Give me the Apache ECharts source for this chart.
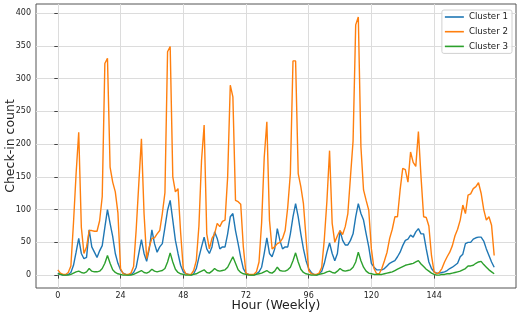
<!DOCTYPE html>
<html>
<head>
<meta charset="utf-8">
<script src="https://cdn.jsdelivr.net/npm/echarts@6/dist/echarts.min.js"></script>
<style>
  html, body { margin: 0; padding: 0; background: #fff; }
  #main { width: 519px; height: 317px; }
</style>
</head>
<body>
<div id="main"></div>
<script>
// check-in counts per hour of the week (0..167)
var seriesNames = ['Cluster 1', 'Cluster 2', 'Cluster 3'];
var xTicks = [0, 24, 48, 72, 96, 120, 144];
var yTicks = [0, 50, 100, 150, 200, 250, 300, 350, 400];

var cluster1 = [
  3, 1, 0, 0, 1, 4, 15, 35, 56, 33, 25, 27, 69, 43, 35, 27, 37, 45, 73, 100, 79, 59, 33, 18,
  8, 3, 1, 0, 1, 4, 12, 33, 54, 33, 21, 40, 69, 48, 35, 43, 48, 73, 99, 114, 84, 53, 33, 15,
  5, 2, 1, 0, 2, 10, 27, 43, 58, 40, 33, 43, 66, 56, 40, 43, 43, 63, 89, 94, 68, 48, 27, 10,
  3, 1, 0, 0, 2, 5, 12, 33, 57, 33, 28, 40, 71, 53, 40, 43, 43, 63, 89, 109, 89, 63, 40, 22,
  10, 4, 1, 0, 2, 6, 18, 35, 49, 33, 22, 33, 68, 53, 46, 46, 53, 63, 89, 109, 94, 84, 63, 43,
  18, 12, 8, 8, 8, 10, 14, 18, 20, 22, 28, 35, 45, 53, 55, 61, 58, 66, 71, 63, 63, 40, 20, 10,
  5, 3, 3, 4, 5, 7, 10, 12, 15, 18, 28, 32, 48, 50, 50, 55, 57, 58, 58, 52, 40, 30, 20, 12
];

var cluster2 = [
  8, 3, 1, 1, 4, 14, 80, 155, 218, 73, 33, 43, 68, 68, 67, 67, 83, 120, 323, 331, 165, 142, 127, 95,
  10, 2, 1, 1, 3, 13, 70, 140, 208, 94, 25, 43, 56, 57, 63, 68, 94, 126, 341, 349, 150, 127, 132, 65,
  10, 2, 1, 1, 7, 22, 75, 175, 229, 63, 40, 56, 63, 79, 74, 82, 84, 150, 290, 272, 114, 112, 108, 43,
  3, 1, 1, 1, 5, 20, 80, 180, 234, 84, 40, 43, 48, 50, 56, 68, 104, 155, 327, 327, 155, 135, 109, 56,
  7, 2, 1, 1, 3, 12, 55, 114, 190, 79, 50, 60, 68, 62, 74, 94, 150, 205, 382, 394, 196, 130, 114, 99,
  40, 10, 2, 2, 10, 22, 35, 56, 70, 89, 89, 130, 163, 161, 142, 188, 172, 166, 219, 150, 89, 88, 75, 30,
  5, 2, 4, 10, 20, 28, 35, 45, 60, 70, 84, 107, 94, 122, 124, 132, 135, 141, 125, 100, 84, 89, 76, 30
];

var cluster3 = [
  2, 1, 0, 0, 0, 1, 3, 5, 6, 4, 3, 5, 10, 6, 5, 5, 6, 10, 18, 30, 18, 8, 4, 2,
  1, 0, 0, 0, 0, 1, 3, 5, 7, 4, 3, 5, 9, 6, 5, 6, 7, 10, 20, 34, 20, 9, 4, 2,
  1, 0, 0, 0, 1, 2, 4, 6, 8, 4, 3, 6, 10, 7, 6, 7, 8, 12, 20, 28, 18, 8, 4, 2,
  1, 0, 0, 0, 1, 2, 3, 5, 7, 4, 3, 6, 12, 7, 6, 6, 8, 12, 22, 34, 20, 9, 4, 2,
  1, 0, 0, 0, 1, 2, 3, 5, 6, 4, 3, 6, 10, 7, 6, 7, 8, 12, 20, 35, 22, 12, 6, 3,
  2, 1, 1, 1, 1, 2, 3, 4, 5, 7, 9, 11, 13, 15, 16, 17, 18, 20, 22, 17, 13, 9, 6, 3,
  1, 0, 0, 1, 1, 2, 2, 3, 4, 5, 6, 8, 10, 14, 14, 15, 18, 20, 21, 16, 12, 8, 5, 2
];

var colors = ['#1f77b4', '#ff7f0e', '#2ca02c'];

function toPoints(arr) {
  return arr.map(function (v, i) { return [i, v]; });
}

var chart = echarts.init(document.getElementById('main'), null, { renderer: 'canvas' });

var lineSeries = [cluster1, cluster2, cluster3].map(function (arr, i) {
  return {
    name: seriesNames[i],
    type: 'line',
    data: toPoints(arr),
    showSymbol: false,
    symbol: 'none',
    lineStyle: { width: 1.4, color: colors[i] },
    itemStyle: { color: colors[i] }
  };
});

var option = {
  animation: false,
  color: colors,
  textStyle: { fontFamily: 'DejaVu Sans' },
  grid: {
    left: 36, right: 3, top: 4, bottom: 29,
    show: true, borderColor: '#555', borderWidth: 1,
    containLabel: false,
    outerBoundsMode: 'none'
  },
  legend: {
    data: seriesNames,
    orient: 'vertical',
    right: 7, top: 10,
    icon: 'rect',
    itemWidth: 19, itemHeight: 1.6,
    itemGap: 4.7,
    padding: [2, 4, 2, 3],
    backgroundColor: 'rgba(255,255,255,0.8)',
    borderColor: '#d0d0d0', borderWidth: 1, borderRadius: 2,
    textStyle: { fontSize: 8.7, lineHeight: 10, color: '#222', fontFamily: 'DejaVu Sans' }
  },
  xAxis: {
    type: 'value',
    min: -8.35, max: 175.35,
    name: 'Hour (Weekly)',
    nameLocation: 'middle',
    nameGap: 11,
    nameMoveOverlap: false,
    nameTextStyle: { fontSize: 12.5, color: '#222', fontFamily: 'DejaVu Sans' },
    axisLine: { show: false },
    axisTick: { show: true, length: 3.5, inside: false, customValues: xTicks, lineStyle: { color: '#444' } },
    axisLabel: { customValues: xTicks, fontSize: 8, color: '#222', margin: 4 },
    splitLine: { show: true, lineStyle: { color: '#dcdcdc', width: 1 } }
  },
  yAxis: {
    type: 'value',
    min: -19.7, max: 413.9,
    name: 'Check-in count',
    nameLocation: 'middle',
    nameGap: 19,
    nameMoveOverlap: false,
    nameRotate: 90,
    nameTextStyle: { fontSize: 12.5, color: '#222', fontFamily: 'DejaVu Sans' },
    axisLine: { show: false },
    axisTick: { show: true, length: 3.5, customValues: yTicks, lineStyle: { color: '#444' } },
    axisLabel: { customValues: yTicks, fontSize: 8, color: '#222', margin: 5 },
    splitLine: { show: true, lineStyle: { color: '#dcdcdc', width: 1 } }
  },
  series: lineSeries
};

chart.setOption(option);
</script>
</body>
</html>
